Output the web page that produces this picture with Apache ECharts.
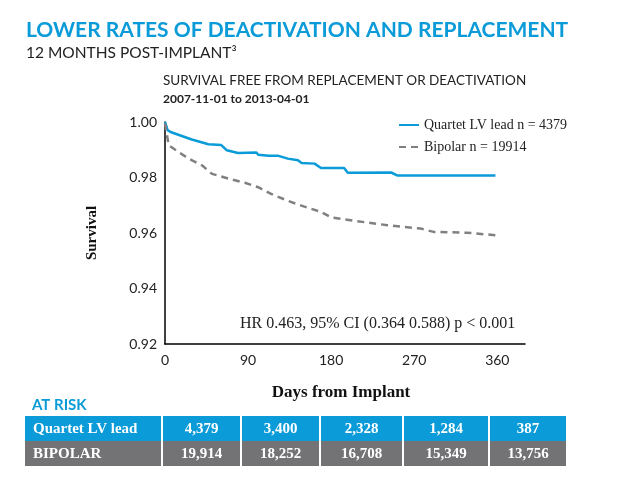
<!DOCTYPE html>
<html>
<head>
<meta charset="utf-8">
<script src="https://cdn.jsdelivr.net/npm/echarts@6/dist/echarts.min.js"></script>
<style>
  html, body { margin: 0; padding: 0; background: #fff; }
  #chart { width: 632px; height: 488px; }
</style>
</head>
<body>
<div id="chart"></div>
<script>
// survival curves (days, survival)
var quartetDays = [0, 1, 3, 7.5, 29, 47, 61, 67, 79, 99, 101, 112, 123, 133, 144, 148, 162, 169, 194, 198, 245, 252, 358];
var quartetSurv = [1.0, 0.999, 0.997, 0.9962, 0.9937, 0.992, 0.9917, 0.9898, 0.9888, 0.989, 0.9882, 0.9878, 0.9878, 0.9868, 0.9862, 0.9852, 0.985, 0.9834, 0.9834, 0.9817, 0.9818, 0.9807, 0.9807];
var bipolarDays = [0, 4, 25.5, 40, 51, 72, 86.5, 101, 115, 133, 151, 169, 180, 205, 241, 277, 291, 327, 358];
var bipolarSurv = [0.9995, 0.9916, 0.9868, 0.9844, 0.9813, 0.9793, 0.9781, 0.9765, 0.9741, 0.9716, 0.9695, 0.9676, 0.9656, 0.9644, 0.9628, 0.9616, 0.9604, 0.9601, 0.9592];

var seriesNames = ['Quartet LV lead n = 4379', 'Bipolar n = 19914'];

// at-risk table
var riskRowLabels = ['Quartet LV lead', 'BIPOLAR'];
var quartetAtRisk = ['4,379', '3,400', '2,328', '1,284', '387'];
var bipolarAtRisk = ['19,914', '18,252', '16,708', '15,349', '13,756'];

var BLUE = '#0a9bd8';
var GREY = '#737376';
var SERIF = '"Liberation Serif", "DejaVu Serif", serif';
var SANS = 'Lato, "Open Sans", sans-serif';

function pairs(xs, ys) {
  var out = [];
  for (var i = 0; i < xs.length; i++) out.push([xs[i], ys[i]]);
  return out;
}

// table layout
var colW = [136, 77, 77, 81, 84, 76];
var colGap = 2;
var tableLeft = 25, tableTop = 416, rowH = 25;
var tableEls = [];
var rows = [quartetAtRisk, bipolarAtRisk];
for (var r = 0; r < rows.length; r++) {
  var x = tableLeft;
  var cells = [riskRowLabels[r]].concat(rows[r]);
  for (var c = 0; c < cells.length; c++) {
    var y = tableTop + r * rowH;
    tableEls.push({
      type: 'rect',
      shape: { x: x, y: y, width: colW[c], height: rowH },
      style: { fill: r === 0 ? BLUE : GREY }
    });
    tableEls.push({
      type: 'text',
      x: c === 0 ? x + 8 : x + colW[c] / 2,
      y: y + rowH / 2 + 1,
      style: {
        text: cells[c], fill: '#fff', font: 'bold 15px ' + SERIF,
        align: c === 0 ? 'left' : 'center', verticalAlign: 'middle'
      }
    });
    x += colW[c] + colGap;
  }
}

var ec = echarts.init(document.getElementById('chart'));
ec.setOption({
  animation: false,
  title: [{
    text: 'LOWER RATES OF DEACTIVATION AND REPLACEMENT',
    left: 21, top: 15,
    textStyle: { color: BLUE, fontFamily: SANS, fontWeight: 'bold', fontSize: 21 }
  }, {
    text: '12 MONTHS POST-IMPLANT³',
    left: 21, top: 40,
    textStyle: { color: '#222', fontFamily: SANS, fontWeight: 'normal', fontSize: 15.5 }
  }, {
    text: 'SURVIVAL FREE FROM REPLACEMENT OR DEACTIVATION',
    left: 158, top: 69,
    textStyle: { color: '#222', fontFamily: SANS, fontWeight: 'normal', fontSize: 13.5 }
  }, {
    text: '2007-11-01 to 2013-04-01',
    left: 158, top: 88,
    textStyle: { color: '#222', fontFamily: SANS, fontWeight: 'bold', fontSize: 12 }
  }, {
    text: 'AT RISK',
    left: 27, top: 393,
    textStyle: { color: BLUE, fontFamily: SANS, fontWeight: 'bold', fontSize: 15 }
  }],
  legend: {
    data: seriesNames,
    orient: 'vertical',
    left: 393, top: 113,
    itemWidth: 20, itemHeight: 10, itemGap: 8,
    itemStyle: { opacity: 0 },
    textStyle: { fontFamily: SERIF, fontSize: 14, color: '#222' }
  },
  grid: { left: 165, right: 107, top: 122, bottom: 144, containLabel: false },
  xAxis: {
    type: 'value', min: 0, max: 390, interval: 90,
    name: 'Days from Implant', nameLocation: 'middle', nameGap: 40,
    nameTextStyle: { fontFamily: SERIF, fontWeight: 'bold', fontSize: 17, color: '#111', padding: [0, 8, 0, 0] },
    axisLine: { lineStyle: { color: '#000', width: 1.5 } },
    axisTick: { show: false },
    splitLine: { show: false },
    axisLabel: {
      color: '#222', fontFamily: SANS, fontSize: 14, margin: 9,
      formatter: function (v) { return v > 360 ? '' : v; }
    }
  },
  yAxis: {
    type: 'value', min: 0.92, max: 1.0, interval: 0.02,
    name: 'Survival', nameLocation: 'middle', nameGap: 65, nameRotate: 90,
    nameTextStyle: { fontFamily: SERIF, fontWeight: 'bold', fontSize: 15, color: '#111' },
    axisLine: { show: true, lineStyle: { color: '#000', width: 1.5 } },
    axisTick: { show: false },
    splitLine: { show: false },
    axisLabel: {
      color: '#222', fontFamily: SANS, fontSize: 14, margin: 8,
      formatter: function (v) { return v.toFixed(2); }
    }
  },
  series: [{
    name: seriesNames[0],
    type: 'line',
    data: pairs(quartetDays, quartetSurv),
    symbol: 'none',
    lineStyle: { color: BLUE, width: 2.5 },
    itemStyle: { color: BLUE }
  }, {
    name: seriesNames[1],
    type: 'line',
    data: pairs(bipolarDays, bipolarSurv),
    symbol: 'none',
    lineStyle: { color: '#808083', width: 2.5, type: [7, 5] },
    itemStyle: { color: '#808083' }
  }],
  graphic: [{
    type: 'text',
    left: 240, top: 316,
    style: {
      text: 'HR 0.463, 95% CI (0.364 0.588) p < 0.001',
      fill: '#222', font: '16px ' + SERIF
    }
  }, {
    type: 'group',
    children: tableEls
  }]
});
</script>
</body>
</html>
